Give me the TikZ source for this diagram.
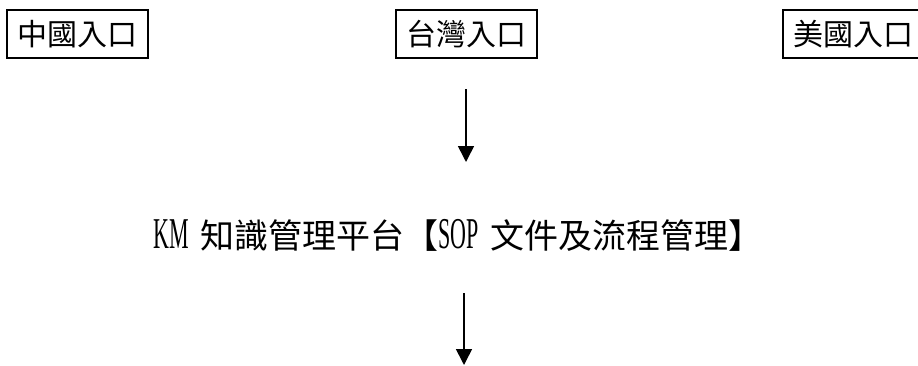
\documentclass[tikz,border=0pt]{standalone}
\usepackage{fontspec}
\newfontfamily\cjk{Noto Sans CJK TC}
\newfontfamily\lat[FakeStretch=0.5]{Liberation Serif}
\usetikzlibrary{arrows.meta}
\tikzset{
  entry/.style={draw=black, line width=2pt, minimum width=141pt, minimum height=48pt,
    inner sep=0pt, font=\cjk\fontsize{30}{30}\selectfont},
  platform/.style={inner sep=0pt, font=\cjk\fontsize{34}{34}\selectfont},
  flow/.style={line width=1.6pt, -{Triangle[length=16pt,width=16pt]}}
}
\begin{document}
\begin{tikzpicture}[x=1pt,y=-1pt]
\useasboundingbox[fill=white] (0,0) rectangle (918,365);
\node[entry] (cn) at (77.5,34) {中國入口};
\node[entry] (tw) at (466,34) {台灣入口};
\node[entry] (us) at (853.5,34) {美國入口};
\node[platform] (km) at (458,235) {{\lat\fontsize{44}{44}\selectfont KM\hspace{6pt} }知識管理平台【{\lat\fontsize{44}{44}\selectfont SOP\hspace{6pt} }文件及流程管理】};
\coordinate (a1s) at (466,89);
\coordinate (a1e) at (466,162);
\coordinate (a2s) at (464,293);
\coordinate (a2e) at (464,365);
\draw[flow] (a1s) -- (a1e);
\draw[flow] (a2s) -- (a2e);
\end{tikzpicture}
\end{document}
